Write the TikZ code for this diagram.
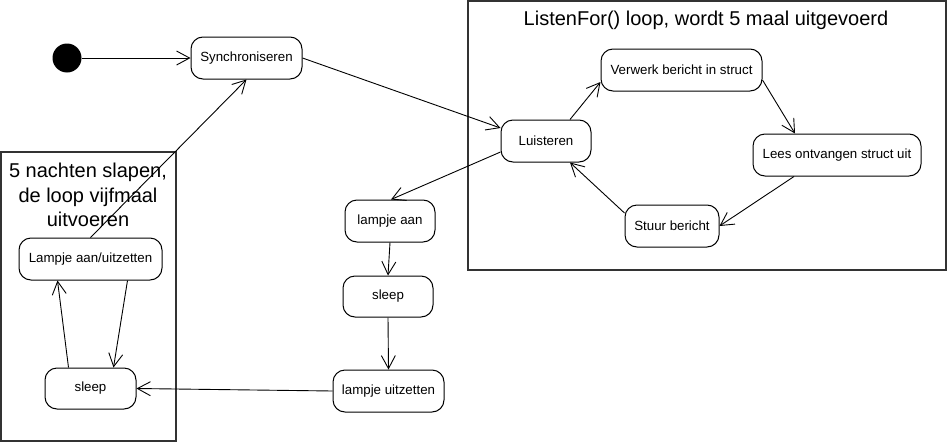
\documentclass[tikz,border=0pt]{standalone}
\usepackage{fontspec}
\setmainfont{Liberation Sans}
\usetikzlibrary{arrows.meta}
\begin{document}
\begin{tikzpicture}[x=1pt,y=-1pt,
  state/.style={draw=black, line width=1pt, rounded corners=12pt, fill=white,
    minimum height=42pt, inner sep=0pt, font=\fontsize{13.3}{15}\selectfont},
  frame/.style={draw=black!80, line width=1.2pt},
  conn/.style={draw=black, line width=0.9pt, -{Straight Barb[length=13pt,width=14pt,line width=0.9pt]}},
  bigtitle/.style={font=\fontsize{20}{24.5}\selectfont, align=center, inner sep=0pt}]
\useasboundingbox (0,0) rectangle (947,442);
\fill[white] (0,0) rectangle (947,442);
% frames
\draw[frame] (468,1) rectangle (946,270);
\draw[frame] (1,152) rectangle (176,441);
\node[bigtitle] (t1) at (706,20) {ListenFor() loop, wordt 5 maal uitgevoerd};
\node[bigtitle] (t2) at (88,195) {5 nachten slapen,\\de loop vijfmaal\\uitvoeren};
% nodes
\node[circle, fill=black, minimum size=29pt, inner sep=0pt] (start) at (67,58) {};
\node[state, minimum width=111pt] (sync) at (246.5,58) {Synchroniseren};
\node[state, minimum width=161pt] (verw) at (681.5,70) {Verwerk bericht in struct};
\node[state, minimum width=168pt] (lees) at (837,155) {Lees ontvangen struct uit};
\node[state, minimum width=94pt] (stuur) at (672,226) {Stuur bericht};
\node[state, minimum width=90pt] (luis) at (546,141) {Luisteren};
\node[state, minimum width=143pt] (lamp) at (90.5,259) {Lampje aan/uitzetten};
\node[state, minimum width=91pt, minimum height=41pt] (sleepL) at (90.5,388.5) {sleep};
\node[state, minimum width=90pt] (aan) at (390,221) {lampje aan};
\node[state, minimum width=90pt, minimum height=41pt] (sleepM) at (388,296.5) {sleep};
\node[state, minimum width=111pt] (uit) at (388.5,391) {lampje uitzetten};
% connectors
\draw[conn] (start) -- (sync.west);
\draw[conn] (sync.east) -- ([yshift=13pt]luis.west);
\draw[conn] ([yshift=-11pt]luis.west) -- ([xshift=1pt]aan.north);
\draw[conn] ([xshift=24pt]luis.north) -- ([yshift=-12pt]verw.west);
\draw[conn] ([yshift=-10pt]verw.east) -- ([xshift=-42pt]lees.north);
\draw[conn] ([xshift=-43pt]lees.south) -- (stuur.east);
\draw[conn] ([yshift=13pt]stuur.west) -- ([xshift=24pt]luis.south);
\draw[conn] (lamp.north) -- (sync.south);
\draw[conn] (aan.south) -- (sleepM.north);
\draw[conn] (sleepM.south) -- (uit.north);
\draw[conn] (uit.west) -- (sleepL.east);
\draw[conn] ([xshift=37pt]lamp.south) -- ([xshift=23pt]sleepL.north);
\draw[conn] ([xshift=-22pt]sleepL.north) -- ([xshift=-33pt]lamp.south);
\end{tikzpicture}
\end{document}
